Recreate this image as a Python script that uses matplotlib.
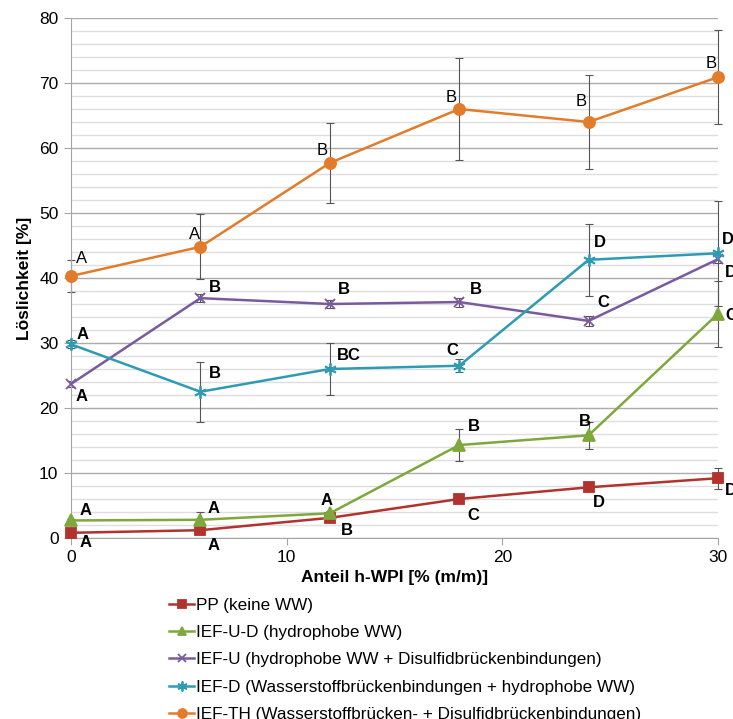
import numpy as np
import matplotlib.pyplot as plt
from matplotlib.ticker import MultipleLocator

plt.rcParams['font.family'] = ['Liberation Sans', 'DejaVu Sans']

# Anteil h-WPI [% (m/m)]
anteil = [0, 6, 12, 18, 24, 30]

# Loeslichkeit [%] je Probe, Standardabweichung und Signifikanzbuchstaben
pp = [0.8, 1.2, 3.1, 6.0, 7.8, 9.2]
pp_sd = [0.3, 0.4, 0.6, 0.3, 0.6, 1.6]
pp_sig = ['A', 'A', 'B', 'C', 'D', 'D']

iefud = [2.7, 2.8, 3.8, 14.3, 15.8, 34.5]
iefud_sd = [0.3, 1.2, 0.4, 2.5, 2.1, 5.1]
iefud_sig = ['A', 'A', 'A', 'B', 'B', 'C']

iefu = [23.7, 36.9, 36.0, 36.3, 33.4, 42.9]
iefu_sd = [0.5, 0.6, 0.6, 0.7, 0.8, 0.6]
iefu_sig = ['A', 'B', 'B', 'B', 'C', 'D']

iefd = [29.8, 22.5, 26.0, 26.5, 42.8, 43.8]
iefd_sd = [0.6, 4.6, 4.0, 1.0, 5.5, 8.1]
iefd_sig = ['A', 'B', 'BC', 'C', 'D', 'D']

iefth = [40.3, 44.8, 57.7, 66.0, 64.0, 70.9]
iefth_sd = [2.5, 5.0, 6.1, 7.9, 7.2, 7.2]
iefth_sig = ['A', 'A', 'B', 'B', 'B', 'B']

names = ['PP (keine WW)',
         'IEF-U-D (hydrophobe WW)',
         'IEF-U (hydrophobe WW + Disulfidbrückenbindungen)',
         'IEF-D (Wasserstoffbrückenbindungen + hydrophobe WW)',
         'IEF-TH (Wasserstoffbrücken- + Disulfidbrückenbindungen)']

# Lage der Buchstaben relativ zum Punkt (Pixel)
pp_off = [(15, -10), (13, -15), (17, -13), (14, -16), (10, -15), (13, -12)]
iefud_off = [(15, 10), (13, 11), (-3, 13), (15, 19), (-4, 14), (13, -2)]
iefu_off = [(11, -13), (14, 11), (14, 14), (17, 13), (15, 18), (13, -13)]
iefd_off = [(12, 10), (14, 18), (19, 14), (-7, 15), (11, 17), (10, 14)]
iefth_off = [(11, 18), (-6, 12), (-8, 12), (-8, 12), (-7, 20), (-7, 14)]

series = [
    (pp, pp_sd, pp_sig, pp_off, '#B2322E', 's', 7, 'bold'),
    (iefud, iefud_sd, iefud_sig, iefud_off, '#7FA83C', '^', 8, 'bold'),
    (iefu, iefu_sd, iefu_sig, iefu_off, '#7A5A9E', 'x', 7, 'bold'),
    (iefd, iefd_sd, iefd_sig, iefd_off, '#2E9BB5', (6, 2, 0), 9, 'bold'),
    (iefth, iefth_sd, iefth_sig, iefth_off, '#E27C2A', 'o', 8, 'normal'),
]

fig = plt.figure(figsize=(7.33, 7.19), dpi=100)
ax = fig.add_axes([71 / 733, 1 - 538 / 719, 647 / 733, 520 / 719])

ax.set_xlim(0, 30)
ax.set_ylim(0, 80)
ax.xaxis.set_major_locator(MultipleLocator(10))
ax.yaxis.set_major_locator(MultipleLocator(10))
ax.yaxis.set_minor_locator(MultipleLocator(2))
ax.grid(axis='y', which='major', color='#ABABAB', lw=1.0)
ax.grid(axis='y', which='minor', color='#DEDEDE', lw=1.0)
ax.set_axisbelow(True)

for s in ['top', 'right']:
    ax.spines[s].set_visible(False)
for s in ['left', 'bottom']:
    ax.spines[s].set_color('#A6A6A6')
ax.tick_params(axis='both', which='major', direction='out', length=5,
               color='#A6A6A6', labelsize=12.5, pad=4)
ax.tick_params(axis='y', which='minor', length=0)

handles = []
for y, sd, sig, off, col, mk, ms, fw in series:
    ax.errorbar(anteil, y, yerr=sd, fmt='none', ecolor='#555555',
                elinewidth=0.8, capsize=3, capthick=0.8, zorder=2, clip_on=False)
    h, = ax.plot(anteil, y, color=col, lw=1.8, marker=mk, ms=ms,
                 mec=col, mfc=col, mew=1.3, zorder=3, clip_on=False)
    handles.append(h)
    for xi, yi, t, (dx, dy) in zip(anteil, y, sig, off):
        ax.annotate(t, (xi, yi), xytext=(dx, dy), textcoords='offset pixels',
                    ha='center', va='center', fontsize=12, fontweight=fw,
                    color='black', annotation_clip=False)

ax.set_xlabel('Anteil h-WPI [% (m/m)]', fontsize=12.5, fontweight='bold', labelpad=3)
ax.set_ylabel('Löslichkeit [%]', fontsize=12.5, fontweight='bold', labelpad=5)

fig.legend(handles, names, loc='upper left',
           bbox_to_anchor=(162 / 733, 1 - 591 / 719), frameon=False,
           fontsize=12.3, handlelength=1.5, handletextpad=0.1,
           labelspacing=0.72, borderaxespad=0, markerscale=0.8)

fig.savefig('out.png', dpi=100)
